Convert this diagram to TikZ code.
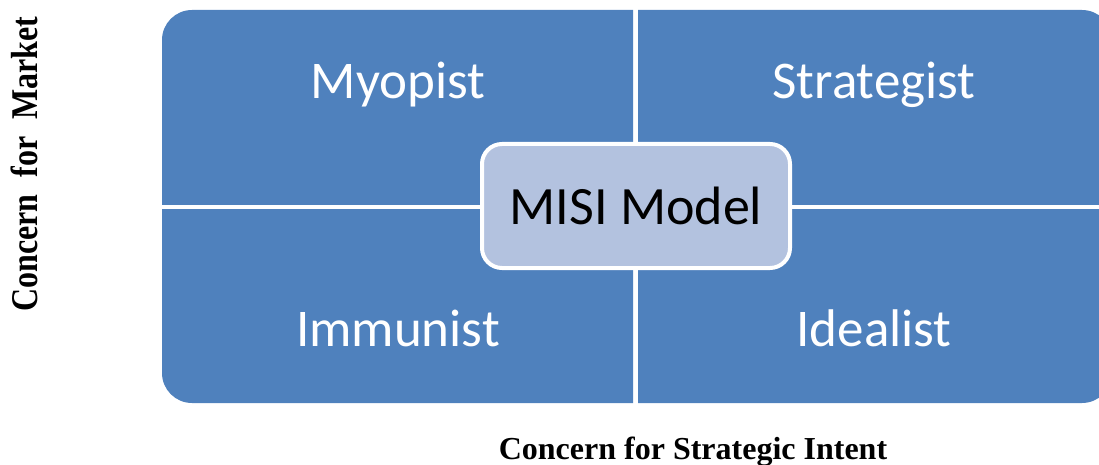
\documentclass[tikz,border=0pt]{standalone}
\usepackage{fontspec}
\newfontfamily\labelfont{Carlito}
\newfontfamily\axisfont{Liberation Serif}
\definecolor{quadblue}{HTML}{4F81BD}
\definecolor{coreblue}{HTML}{B3C2DF}
\begin{document}
\begin{tikzpicture}[x=1pt,y=-1pt,
  quadtext/.style={text=white, font=\labelfont\fontsize{53}{60}\selectfont, anchor=base, inner sep=0pt},
  corebox/.style={draw=white, line width=4pt, fill=coreblue, rounded corners=20pt,
    minimum width=308pt, minimum height=124pt, inner sep=0pt,
    font=\labelfont\fontsize{54}{60}\selectfont, text=black},
  axistext/.style={font=\axisfont\bfseries\fontsize{32}{36}\selectfont, anchor=base, inner sep=0pt}]
  \useasboundingbox (0,0) rectangle (1099,465);
  % four quadrants cut from one rounded panel
  \foreach \xa/\xb/\ya/\yb in {162/633/10/204, 638/1120/10/204, 162/633/209/403, 638/1120/209/403}{
    \begin{scope}
      \clip (\xa,\ya) rectangle (\xb,\yb);
      \fill[quadblue, rounded corners=30pt] (162,10) rectangle (1112,403);
    \end{scope}
  }
  % quadrant labels
  \node[quadtext] (myopist) at (398,99) {Myopist};
  \node[quadtext] (strategist) at (874,99) {Strategist};
  \node[quadtext] (immunist) at (398,346) {Immunist};
  \node[quadtext] (idealist) at (874,346) {Idealist};
  % central model box
  \node[corebox] (misi) at (636,206) {MISI Model};
  % axis captions
  \node[axistext] (xaxis) at (693,459) {Concern for Strategic Intent};
  \node[axistext, rotate=90] (yaxis) at (37,164)
    {\scalebox{1}[1.18]{Concern\hspace{17pt}for\hspace{17pt}Market}};
\end{tikzpicture}
\end{document}
